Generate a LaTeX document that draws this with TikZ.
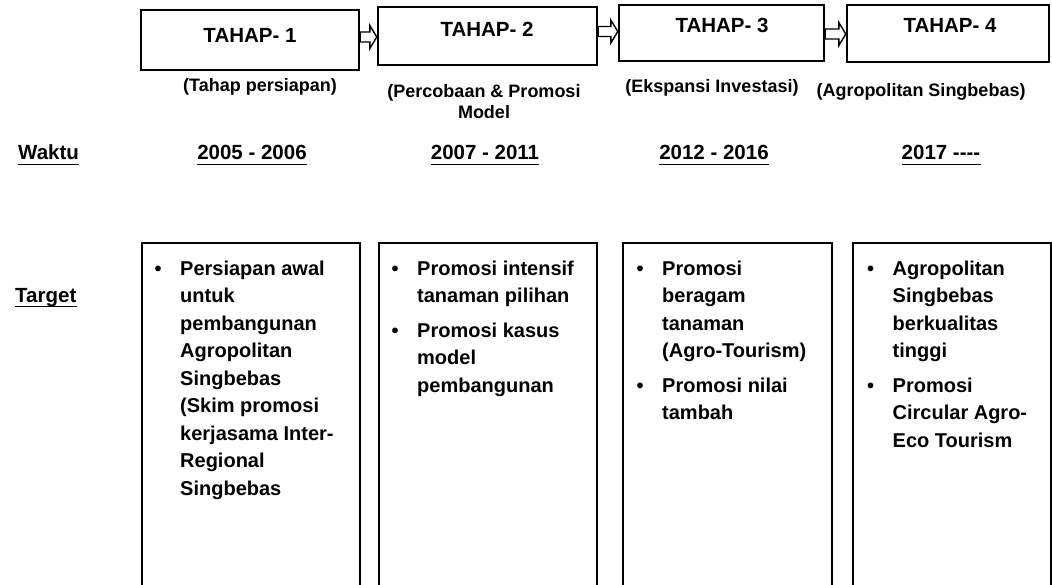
\documentclass[tikz,border=0pt]{standalone}
\usepackage{fontspec}
\setmainfont{Liberation Sans}
\usetikzlibrary{calc}

\tikzset{
	stagebox/.style={draw, line width=2.4pt, inner sep=0pt},
	stagelabel/.style={anchor=base, inner sep=0pt, font=\bfseries\fontsize{20.5}{24}\selectfont},
	subtitle/.style={anchor=base, inner sep=0pt, align=center, font=\bfseries\fontsize{18}{21}\selectfont},
	rowlabel/.style={anchor=base west, inner sep=0pt, font=\bfseries\fontsize{20.5}{24}\selectfont},
	yearlabel/.style={anchor=base, inner sep=0pt, font=\bfseries\fontsize{20.5}{24}\selectfont},
	targetbox/.style={draw, line width=2.4pt, anchor=north west, inner sep=0pt, minimum height=380pt},
	targettext/.style={anchor=base west, inner sep=0pt, font=\bfseries\fontsize{20}{27.5}\selectfont},
	stagearr/.style={draw, fill=white, line width=1.4pt, line join=miter},
	undl/.style={line width=1.8pt}
}

% hollow block arrow from a start coordinate to an end coordinate
\newcommand{\stagearrow}[2]{%
	\draw[stagearr] ($(#1)+(0,-5)$) -- ($(#2)+(-7,-5)$) -- ($(#2)+(-7,-11.5)$) -- (#2)
		-- ($(#2)+(-7,11.5)$) -- ($(#2)+(-7,5)$) -- ($(#1)+(0,5)$) -- cycle;}

% underline below a text node
\newcommand{\underlinenode}[1]{%
	\draw[undl] ($(#1.base west)+(0,4.5)$) -- ($(#1.base east)+(0,4.5)$);}

\begin{document}
\begin{tikzpicture}[x=1pt, y=-1pt]
	\useasboundingbox (0,0) rectangle (1052,585);
	\clip (0,0) rectangle (1052,585);

	% stage boxes
	\node[stagebox, minimum width=218pt, minimum height=60pt] (h1) at (250,40) {};
	\node[stagebox, minimum width=219pt, minimum height=58pt] (h2) at (487.5,36) {};
	\node[stagebox, minimum width=205pt, minimum height=56pt] (h3) at (721.5,33) {};
	\node[stagebox, minimum width=202pt, minimum height=57pt] (h4) at (948,33.5) {};

	% arrows between stages
	\coordinate (a1s) at ($(h1.east)+(0,-3)$);
	\coordinate (a1e) at (h2.west |- a1s);
	\coordinate (a2s) at ($(h2.east)+(0,-4.5)$);
	\coordinate (a2e) at (h3.west |- a2s);
	\coordinate (a3s) at ($(h3.east)+(0,1)$);
	\coordinate (a3e) at (h4.west |- a3s);
	\stagearrow{a1s}{a1e}
	\stagearrow{a2s}{a2e}
	\stagearrow{a3s}{a3e}

	\node[stagelabel] (t1) at (250,43) {TAHAP- 1};
	\node[stagelabel] (t2) at (487,37) {TAHAP- 2};
	\node[stagelabel] (t3) at (722,33) {TAHAP- 3};
	\node[stagelabel] (t4) at (950,33) {TAHAP- 4};

	% stage names
	\node[subtitle] (s1) at (260,92) {(Tahap persiapan)};
	\node[subtitle, anchor=north] (s2) at (484,84) {(Percobaan \& Promosi\\Model};
	\node[subtitle] (s3) at (712,93) {(Ekspansi Investasi)};
	\node[subtitle] (s4) at (921,97) {(Agropolitan Singbebas)};

	% time row
	\node[rowlabel] (waktu) at (18,160) {Waktu};
	\node[yearlabel] (y1) at (252,160) {2005 - 2006};
	\node[yearlabel] (y2) at (485,160) {2007 - 2011};
	\node[yearlabel] (y3) at (714,160) {2012 - 2016};
	\node[yearlabel] (y4) at (941,160) {2017 {-}{-}{-}{-}};
	\foreach \n in {waktu,y1,y2,y3,y4}{
		\underlinenode{\n}
	}

	% target row
	\node[rowlabel] (target) at (15,302) {Target};
	\underlinenode{target}

	\node[targetbox, minimum width=218pt] (b1) at (141,242) {};
	\node[targetbox, minimum width=218pt] (b2) at (378,242) {};
	\node[targetbox, minimum width=209pt] (b3) at (622,242) {};
	\node[targetbox, minimum width=198pt] (b4) at (852,242) {};

	\node[targettext] (p1) at ($(b1.north west)+(13.5,33.5)$) {%
		\begin{tabular}[t]{@{}p{25.5pt}@{}l@{}}
			\textbullet & Persiapan awal\\
			& untuk\\
			& pembangunan\\
			& Agropolitan\\
			& Singbebas\\
			& (Skim promosi\\
			& kerjasama Inter-\\
			& Regional\\
			& Singbebas
		\end{tabular}};
	\node[targettext] (p2) at ($(b2.north west)+(13.5,33.5)$) {%
		\begin{tabular}[t]{@{}p{25.5pt}@{}l@{}}
			\textbullet & Promosi intensif\\
			& tanaman pilihan\\[7pt]
			\textbullet & Promosi kasus\\
			& model\\
			& pembangunan
		\end{tabular}};
	\node[targettext] (p3) at ($(b3.north west)+(14.5,33.5)$) {%
		\begin{tabular}[t]{@{}p{25.5pt}@{}l@{}}
			\textbullet & Promosi\\
			& beragam\\
			& tanaman\\
			& (Agro-Tourism)\\[7pt]
			\textbullet & Promosi nilai\\
			& tambah
		\end{tabular}};
	\node[targettext] (p4) at ($(b4.north west)+(15,33.5)$) {%
		\begin{tabular}[t]{@{}p{25.5pt}@{}l@{}}
			\textbullet & Agropolitan\\
			& Singbebas\\
			& berkualitas\\
			& tinggi\\[7pt]
			\textbullet & Promosi\\
			& Circular Agro-\\
			& Eco Tourism
		\end{tabular}};
\end{tikzpicture}
\end{document}
